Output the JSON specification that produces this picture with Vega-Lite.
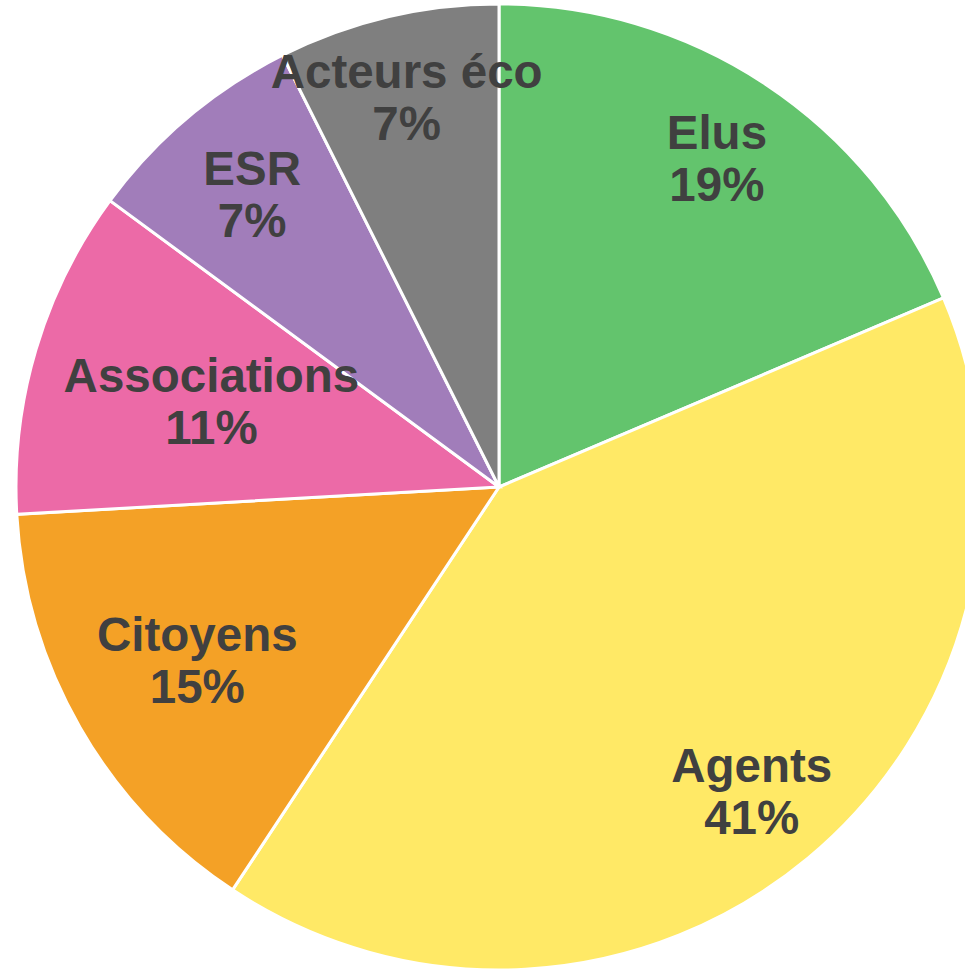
{
  "$schema": "https://vega.github.io/schema/vega-lite/v6.json",
  "width": 998,
  "height": 974,
  "autosize": {"type": "none"},
  "padding": 0,
  "background": "white",
  "view": {"stroke": null},
  "data": {
    "values": [
      {"idx": 1, "name": "Elus", "value": 18.6, "label": "Elus\n19%"},
      {"idx": 2, "name": "Agents", "value": 40.7, "label": "Agents\n41%"},
      {"idx": 3, "name": "Citoyens", "value": 14.8, "label": "Citoyens\n15%"},
      {"idx": 4, "name": "Associations", "value": 11.0, "label": "Associations\n11%"},
      {"idx": 5, "name": "ESR", "value": 7.5, "label": "ESR\n7%"},
      {"idx": 6, "name": "Acteurs éco", "value": 7.4, "label": "Acteurs éco\n7%"}
    ]
  },
  "encoding": {
    "theta": {"field": "value", "type": "quantitative", "stack": true},
    "order": {"field": "idx", "type": "quantitative"}
  },
  "layer": [
    {
      "mark": {"type": "arc", "outerRadius": 483, "stroke": "white", "strokeWidth": 3},
      "encoding": {
        "color": {
          "field": "name",
          "type": "nominal",
          "sort": null,
          "scale": {
            "domain": ["Elus", "Agents", "Citoyens", "Associations", "ESR", "Acteurs éco"],
            "range": ["#63C46D", "#FFE966", "#F4A126", "#EC6AA7", "#A17DBA", "#7F7F7F"]
          },
          "legend": null
        }
      }
    },
    {
      "mark": {"type": "text", "radius": 395, "dy": -23, "font": "Liberation Sans", "fontWeight": "bold", "fontSize": 47.5, "lineHeight": 52, "lineBreak": "\n", "color": "#404040", "align": "center", "baseline": "middle"},
      "encoding": {
        "text": {"condition": {"test": "datum.name === 'Elus' || datum.name === 'Agents'", "field": "label"}, "value": ""}
      }
    },
    {
      "mark": {"type": "text", "radius": 383, "dy": -23, "font": "Liberation Sans", "fontWeight": "bold", "fontSize": 47.5, "lineHeight": 52, "lineBreak": "\n", "color": "#404040", "align": "center", "baseline": "middle"},
      "encoding": {
        "text": {"condition": {"test": "datum.name === 'ESR'", "field": "label"}, "value": ""}
      }
    },
    {
      "mark": {"type": "text", "radius": 401, "dy": -23, "font": "Liberation Sans", "fontWeight": "bold", "fontSize": 47.5, "lineHeight": 52, "lineBreak": "\n", "color": "#404040", "align": "center", "baseline": "middle"},
      "encoding": {
        "text": {"condition": {"test": "datum.name === 'Acteurs éco'", "field": "label"}, "value": ""}
      }
    },
    {
      "mark": {"type": "text", "radius": 348, "dy": -23, "font": "Liberation Sans", "fontWeight": "bold", "fontSize": 47.5, "lineHeight": 52, "lineBreak": "\n", "color": "#404040", "align": "center", "baseline": "middle"},
      "encoding": {
        "text": {"condition": {"test": "datum.name === 'Citoyens'", "field": "label"}, "value": ""}
      }
    },
    {
      "mark": {"type": "text", "radius": 300, "dy": -23, "font": "Liberation Sans", "fontWeight": "bold", "fontSize": 47.5, "lineHeight": 52, "lineBreak": "\n", "color": "#404040", "align": "center", "baseline": "middle"},
      "encoding": {
        "text": {"condition": {"test": "datum.name === 'Associations'", "field": "label"}, "value": ""}
      }
    }
  ]
}
